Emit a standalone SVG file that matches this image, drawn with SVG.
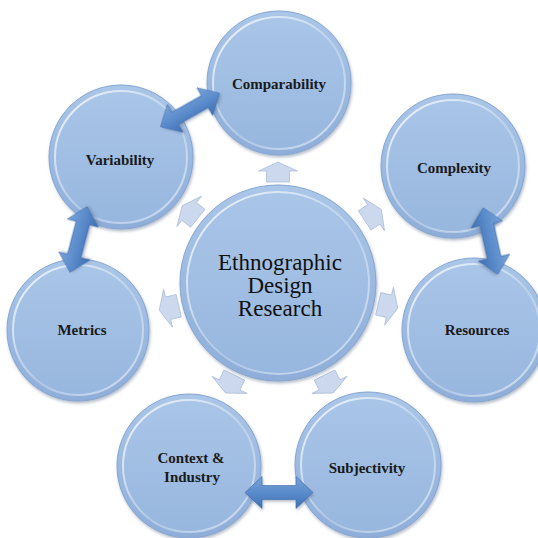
<svg xmlns="http://www.w3.org/2000/svg" width="538" height="538" viewBox="0 0 538 538">
<defs>
<linearGradient id="gOuter" x1="0" y1="0" x2="0" y2="1">
<stop offset="0" stop-color="#aac6e8"/>
<stop offset="1" stop-color="#8eaed9"/>
</linearGradient>
<linearGradient id="gInner" x1="0" y1="0" x2="0" y2="1">
<stop offset="0" stop-color="#a9c5e8"/>
<stop offset="1" stop-color="#98b7de"/>
</linearGradient>
<linearGradient id="gRim" x1="0" y1="0" x2="1" y2="1">
<stop offset="0" stop-color="#ffffff" stop-opacity="0.85"/>
<stop offset="0.55" stop-color="#ffffff" stop-opacity="0.25"/>
<stop offset="1" stop-color="#ffffff" stop-opacity="0.6"/>
</linearGradient>
<linearGradient id="gArrow" x1="0" y1="0" x2="0" y2="1">
<stop offset="0" stop-color="#79a3d9"/>
<stop offset="0.5" stop-color="#5b8bcb"/>
<stop offset="1" stop-color="#3f71b4"/>
</linearGradient>
<filter id="shadow" x="-20%" y="-20%" width="140%" height="140%">
<feDropShadow dx="1" dy="2" stdDeviation="1.5" flood-color="#5a6f8c" flood-opacity="0.45"/>
</filter>
<path id="dbl" d="M-34 0 L-17 -16 L-17 -7 L17 -7 L17 -16 L34 0 L17 16 L17 7 L-17 7 L-17 16 Z"/>
<path id="small" d="M0 -10 L19.5 -1 L11.5 -1 L11.5 10 L-11.5 10 L-11.5 -1 L-19.5 -1 Z"/>
</defs>
<style>
.outer{fill:url(#gOuter);stroke:#86a5d1;stroke-width:1;filter:url(#shadow)}
.inner{fill:url(#gInner);stroke:url(#gRim);stroke-width:2}
.lbl{font-family:"Liberation Serif","Times New Roman",serif;font-weight:bold;font-size:15px;fill:#1a1a1a;text-anchor:middle}
.ctr{font-family:"Liberation Serif","Times New Roman",serif;font-size:23px;fill:#111;text-anchor:middle}
.dbl{fill:url(#gArrow);stroke:#3a6aa8;stroke-width:0.6;filter:url(#shadow)}
.sm{fill:#cbd8ed;stroke:#aebfd9;stroke-width:0.8}
</style>
<rect width="538" height="538" fill="#ffffff"/>

<g id="connectors">
<use href="#small" class="sm" transform="translate(278,172) rotate(0)"/>
<use href="#small" class="sm" transform="translate(190,212) rotate(-51)"/>
<use href="#small" class="sm" transform="translate(373,215) rotate(57)"/>
<use href="#small" class="sm" transform="translate(169,308) rotate(-103)"/>
<use href="#small" class="sm" transform="translate(388,306) rotate(103)"/>
<use href="#small" class="sm" transform="translate(230,384) rotate(206)"/>
<use href="#small" class="sm" transform="translate(329,384) rotate(154)"/>
</g>

<g id="n-center">
<circle class="outer" cx="278" cy="283" r="98"/>
<circle class="inner" cx="278" cy="283" r="91"/>
<text class="ctr" x="280" y="270">Ethnographic</text>
<text class="ctr" x="280" y="293">Design</text>
<text class="ctr" x="280" y="316">Research</text>
</g>

<g id="n-comparability">
<circle class="outer" cx="279" cy="83" r="72"/>
<circle class="inner" cx="279" cy="83" r="66"/>
<text class="lbl" x="279" y="89">Comparability</text>
</g>

<g id="n-variability">
<circle class="outer" cx="121" cy="157" r="72"/>
<circle class="inner" cx="121" cy="157" r="66"/>
<text class="lbl" x="120" y="165">Variability</text>
</g>

<g id="n-complexity">
<circle class="outer" cx="453" cy="166" r="72"/>
<circle class="inner" cx="453" cy="166" r="66"/>
<text class="lbl" x="454" y="173">Complexity</text>
</g>

<g id="n-resources">
<circle class="outer" cx="474" cy="330" r="72"/>
<circle class="inner" cx="474" cy="330" r="66"/>
<text class="lbl" x="477" y="335">Resources</text>
</g>

<g id="n-metrics">
<circle class="outer" cx="78" cy="330" r="71"/>
<circle class="inner" cx="78" cy="330" r="65"/>
<text class="lbl" x="82" y="335">Metrics</text>
</g>

<g id="n-context">
<circle class="outer" cx="189" cy="466" r="72"/>
<circle class="inner" cx="189" cy="466" r="66"/>
<text class="lbl" x="191" y="463">Context &amp;</text>
<text class="lbl" x="192" y="482">Industry</text>
</g>

<g id="n-subjectivity">
<circle class="outer" cx="368" cy="465" r="73"/>
<circle class="inner" cx="368" cy="465" r="67"/>
<text class="lbl" x="367" y="473">Subjectivity</text>
</g>

<g id="double-arrows">
<use href="#dbl" class="dbl" transform="translate(190,110) rotate(-29.5)"/>
<use href="#dbl" class="dbl" transform="translate(78.5,239.5) rotate(-75.3)"/>
<use href="#dbl" class="dbl" transform="translate(490.5,241) rotate(77.6)"/>
<use href="#dbl" class="dbl" transform="translate(279,492.5) rotate(0)"/>
</g>
</svg>
